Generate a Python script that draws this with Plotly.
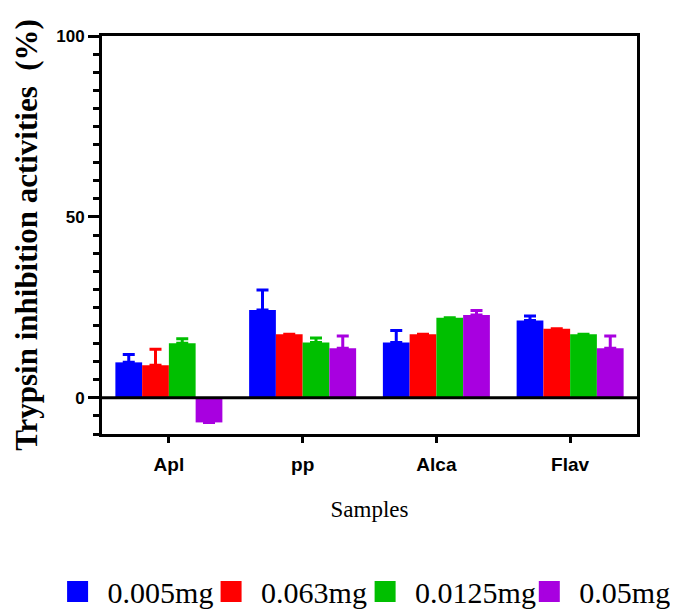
import plotly.graph_objects as go

categories = ["Apl", "pp", "Alca", "Flav"]
series_names = ["0.005mg", "0.063mg", "0.0125mg", "0.05mg"]
colors = ["#0000FF", "#FF0000", "#00BF00", "#A800E0"]

vals_0005 = [9.8, 24.3, 15.3, 21.4]
vals_0063 = [9.0, 17.6, 17.6, 19.1]
vals_00125 = [15.1, 15.3, 22.1, 17.6]
vals_005 = [-6.8, 13.7, 22.9, 13.7]

err_0005 = [2.2, 5.5, 3.3, 1.2]
err_0063 = [4.4, 0.0, 0.0, 0.0]
err_00125 = [1.2, 1.2, 0.0, 0.0]
err_005 = [0.0, 3.4, 1.2, 3.4]

y_ticks = [0, 50, 100]

all_vals = [vals_0005, vals_0063, vals_00125, vals_005]
all_errs = [err_0005, err_0063, err_00125, err_005]

legend_ids = ["legend", "legend2", "legend3", "legend4"]
legend_x = [-0.1017, 0.1852, 0.4731, 0.7800]

fig = go.Figure()
for name, col, v, e in zip(series_names, colors, all_vals, all_errs):
    fig.add_trace(go.Bar(
        x=categories, y=v, name=name, showlegend=False,
        marker=dict(color=col, line=dict(width=0)),
        error_y=dict(type="data", symmetric=False, array=e,
                     arrayminus=[0] * len(e), color=col, thickness=3, width=6),
    ))
# legend entries with larger square swatches, one legend box per entry
for name, col, lid in zip(series_names, colors, legend_ids):
    fig.add_trace(go.Scatter(
        x=[None], y=[None], mode="markers", name=name, legend=lid,
        marker=dict(symbol="square", size=16, color=col, line=dict(color=col, width=5)),
    ))

fig.add_shape(type="line", xref="paper", x0=0, x1=1, yref="y", y0=0, y1=0,
              line=dict(color="black", width=3), layer="above")

legend_common = dict(orientation="h", xanchor="left", y=-0.396, yanchor="middle",
                     font=dict(family="Liberation Serif", size=30, color="black"),
                     itemsizing="trace", itemwidth=50, bgcolor="rgba(0,0,0,0)")
legends = {lid: dict(legend_common, x=lx) for lid, lx in zip(legend_ids, legend_x)}

fig.update_layout(
    width=678, height=611,
    margin=dict(l=94, r=49, t=28, b=185, autoexpand=False),
    paper_bgcolor="white", plot_bgcolor="white",
    barmode="group", bargap=0.2, bargroupgap=0,
    font=dict(family="Liberation Serif", color="black"),
    xaxis=dict(
        showline=True, linecolor="black", linewidth=3, mirror=True,
        ticks="outside", ticklen=6, tickwidth=3, tickcolor="black",
        ticklabelstandoff=5,
        tickfont=dict(family="Liberation Sans", size=19, color="black", weight="bold"),
        showgrid=False, zeroline=False,
        title=dict(text="Samples", font=dict(family="Liberation Serif", size=23), standoff=28),
    ),
    yaxis=dict(
        range=[-10, 100], tickvals=y_ticks,
        showline=True, linecolor="black", linewidth=3, mirror=True,
        ticks="outside", ticklen=11, tickwidth=3, tickcolor="black",
        minor=dict(dtick=5, tick0=0, ticks="outside", ticklen=6, tickwidth=3, tickcolor="black", showgrid=False),
        tickfont=dict(family="Liberation Sans", size=17, color="black", weight="bold"),
        showgrid=False, zeroline=False,
        title=dict(text="Trypsin inhibition activities\u00a0\u00a0(%)",
                   font=dict(family="Liberation Serif", size=31, weight="bold"), standoff=10),
    ),
    **legends,
)

fig.write_html("out.html")
